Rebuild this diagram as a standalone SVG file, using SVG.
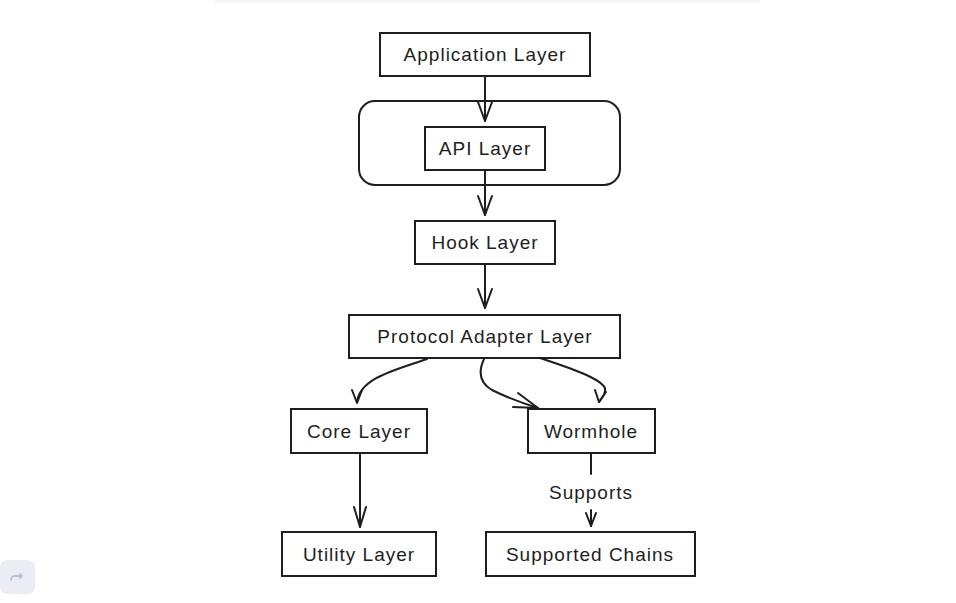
<svg xmlns="http://www.w3.org/2000/svg" width="956" height="603" viewBox="0 0 956 603">
<style>
.n{fill:#ffffff;stroke:#1e1e1e;stroke-width:2}
.t{font-family:"Liberation Sans",Arial,sans-serif;font-size:19px;letter-spacing:1px;fill:#1e1e1e;text-anchor:middle;dominant-baseline:central}
.e{fill:none;stroke:#1e1e1e;stroke-width:2;stroke-linecap:round;stroke-linejoin:round}
.h{fill:none;stroke:#1e1e1e;stroke-width:2;stroke-linecap:round;stroke-linejoin:round}
</style>
<rect width="956" height="603" fill="#ffffff"/>
<rect x="215" y="0" width="545" height="3" fill="#f6f6f6"/>
<g id="redo-button">
<rect x="0" y="560" width="35" height="34" rx="7" fill="#ececf4"/>
<path d="M11 580 q0 -4 4 -4 h7 m-2 -2 l2 2 -2 2" fill="none" stroke="#b8b8c4" stroke-width="1.5" stroke-linecap="round"/>
</g>
<g id="subgraph-api">
<rect x="359" y="101" width="261" height="84" rx="16" fill="none" stroke="#1e1e1e" stroke-width="2"/>
</g>
<g id="node-application">
<rect class="n" x="380" y="33" width="210" height="43"/>
<text class="t" x="485" y="54">Application Layer</text>
</g>
<g id="node-api">
<rect class="n" x="425" y="127" width="120" height="43"/>
<text class="t" x="485" y="148">API Layer</text>
</g>
<g id="node-hook">
<rect class="n" x="415" y="221" width="140" height="43"/>
<text class="t" x="485" y="242">Hook Layer</text>
</g>
<g id="node-protocol">
<rect class="n" x="349" y="315" width="271" height="43"/>
<text class="t" x="485" y="336">Protocol Adapter Layer</text>
</g>
<g id="node-core">
<rect class="n" x="291" y="409" width="136" height="44"/>
<text class="t" x="359" y="431">Core Layer</text>
</g>
<g id="node-wormhole">
<rect class="n" x="528" y="409" width="127" height="44"/>
<text class="t" x="591" y="431">Wormhole</text>
</g>
<g id="node-utility">
<rect class="n" x="282" y="532" width="154" height="44"/>
<text class="t" x="359" y="554">Utility Layer</text>
</g>
<g id="node-chains">
<rect class="n" x="486" y="532" width="209" height="44"/>
<text class="t" x="590" y="554">Supported Chains</text>
</g>
<g id="connectors">
<path class="e" d="M485 76 V121"/>
<path class="h" d="M478 102 L485 121 L492 102"/>
<path class="e" d="M485 170 V215"/>
<path class="h" d="M478 196 L485 215 L492 196"/>
<path class="e" d="M485 264 V308"/>
<path class="h" d="M478 289 L485 308 L492 289"/>
<path class="e" d="M427 359 C395 370 360 378 357 402"/>
<path class="h" d="M352 390 L357 403 L362 390"/>
<path class="e" d="M484 359 C478 372 480 383 492 390 C508 398 522 403 538 408"/>
<path class="h" d="M518 393 L538 408 L513 407"/>
<path class="e" d="M540 358 C570 368 600 378 605 388 C606 394 602 398 599 402"/>
<path class="h" d="M595 390 L599 402 L606 392"/>
<path class="e" d="M360 453 V527"/>
<path class="h" d="M354 507 L360 527 L366 507"/>
<path class="e" d="M591 453 V474" stroke-width="3"/>
<text class="t" x="591" y="492">Supports</text>
<path class="e" d="M591 510 V526"/>
<path class="h" d="M586 513 L591 526 L596 513"/>
</g>
</svg>
